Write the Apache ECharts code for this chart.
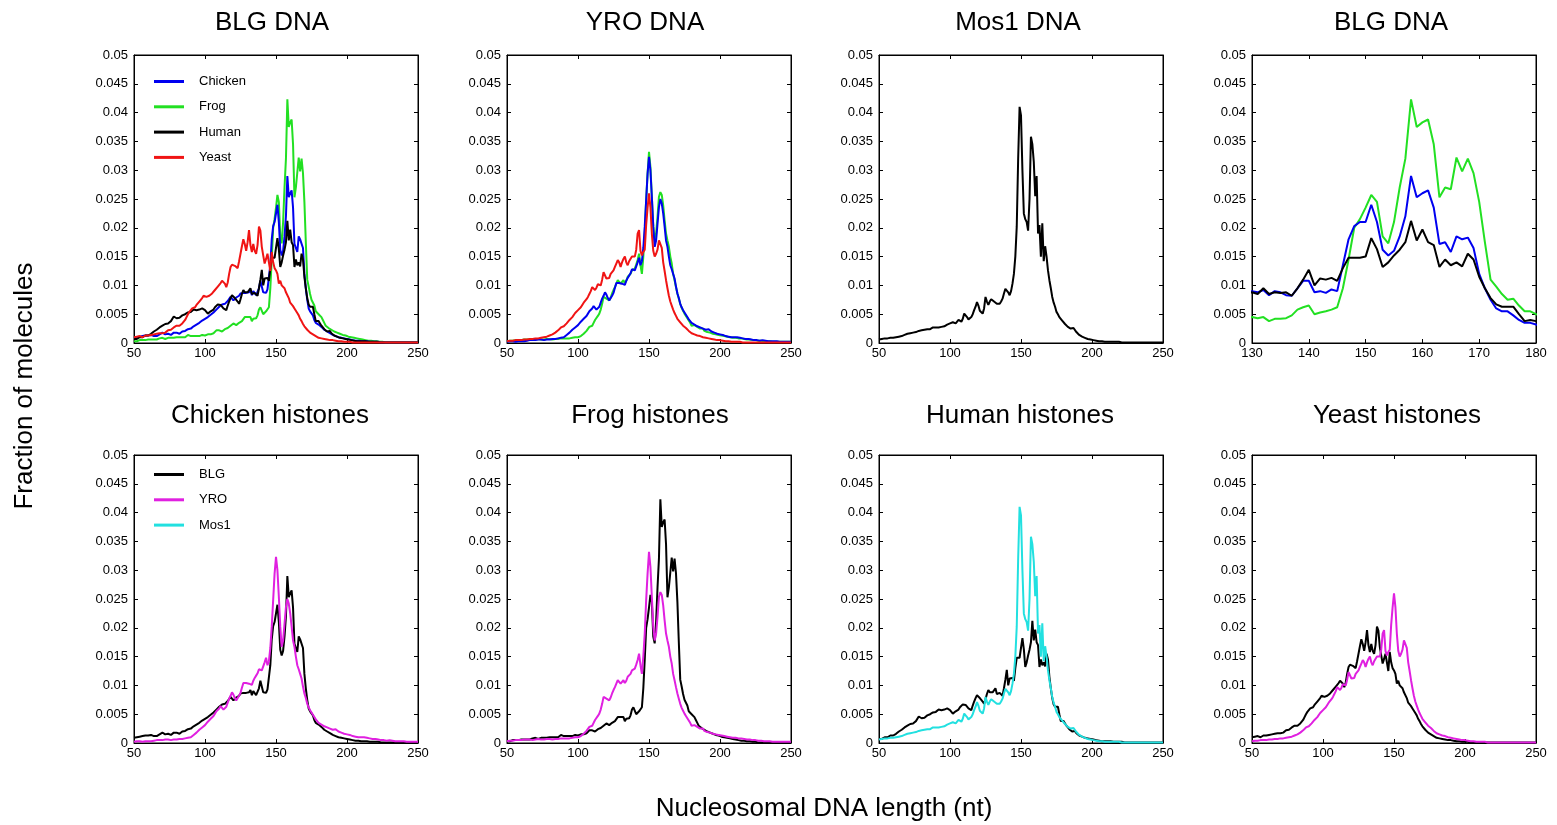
<!DOCTYPE html>
<html>
<head>
<meta charset="utf-8">
<title>Nucleosomal DNA length distributions</title>
<script src="https://cdn.jsdelivr.net/npm/echarts@6/dist/echarts.min.js"></script>
<style>
  html, body { margin: 0; padding: 0; background: #ffffff; }
  #chart { width: 1557px; height: 825px; }
</style>
</head>
<body>
<div id="chart"></div>
<script>
// Nucleosomal DNA length axis: one value per nucleotide, 50..250 nt
const lengths = Array.from({ length: 201 }, (_, k) => 50 + k);

// Fraction of molecules at each length (rows of ten: 50-59, 60-69, ... , 250)
const blgChicken = [
  0.0009, 0.0008, 0.0010, 0.0009, 0.0011, 0.0010, 0.0012, 0.0011, 0.0013, 0.0012,
  0.0013, 0.0012, 0.0014, 0.0013, 0.0012, 0.0013, 0.0012, 0.0014, 0.0015, 0.0016,
  0.0018, 0.0016, 0.0015, 0.0014, 0.0016, 0.0015, 0.0014, 0.0016, 0.0018, 0.0019,
  0.0018, 0.0017, 0.0016, 0.0018, 0.0020, 0.0019, 0.0021, 0.0022, 0.0024, 0.0023,
  0.0025, 0.0027, 0.0029, 0.0030, 0.0032, 0.0034, 0.0035, 0.0037, 0.0039, 0.0040,
  0.0042, 0.0044, 0.0045, 0.0046, 0.0049, 0.0051, 0.0053, 0.0055, 0.0058, 0.0060,
  0.0063, 0.0065, 0.0067, 0.0070, 0.0068, 0.0071, 0.0073, 0.0075, 0.0080, 0.0077,
  0.0074, 0.0076, 0.0079, 0.0077, 0.0082, 0.0086, 0.0084, 0.0087, 0.0089, 0.0087,
  0.0090, 0.0088, 0.0092, 0.0083, 0.0090, 0.0088, 0.0083, 0.0082, 0.0095, 0.0108,
  0.0108, 0.0088, 0.0090, 0.0087, 0.0093, 0.0090, 0.0135, 0.0180, 0.0203, 0.0210,
  0.0210, 0.0240, 0.0210, 0.0162, 0.0152, 0.0160, 0.0185, 0.0220, 0.0290, 0.0253,
  0.0260, 0.0265, 0.0235, 0.0172, 0.0175, 0.0158, 0.0185, 0.0180, 0.0183, 0.0165,
  0.0120, 0.0095, 0.0075, 0.0060, 0.0055, 0.0055, 0.0048, 0.0040, 0.0035, 0.0035,
  0.0032, 0.0030, 0.0028, 0.0026, 0.0023, 0.0021, 0.0020, 0.0018, 0.0017, 0.0015,
  0.0014, 0.0013, 0.0012, 0.0011, 0.0010, 0.0010, 0.0009, 0.0008, 0.0008, 0.0007,
  0.0007, 0.0006, 0.0006, 0.0005, 0.0005, 0.0005, 0.0004, 0.0004, 0.0004, 0.0004,
  0.0003, 0.0003, 0.0003, 0.0003, 0.0003, 0.0002, 0.0002, 0.0002, 0.0002, 0.0002,
  0.0002, 0.0002, 0.0002, 0.0001, 0.0001, 0.0001, 0.0001, 0.0001, 0.0001, 0.0001,
  0.0001, 0.0001, 0.0001, 0.0001, 0.0001, 0.0001, 0.0001, 0.0001, 0.0001, 0.0001,
  0.0001, 0.0001, 0.0001, 0.0001, 0.0001, 0.0001, 0.0001, 0.0001, 0.0001, 0.0001,
  0.0001
];

const blgFrog = [
  0.0003, 0.0004, 0.0003, 0.0004, 0.0005, 0.0004, 0.0005, 0.0006, 0.0005, 0.0006,
  0.0006, 0.0005, 0.0006, 0.0007, 0.0006, 0.0007, 0.0006, 0.0007, 0.0008, 0.0007,
  0.0009, 0.0008, 0.0007, 0.0008, 0.0009, 0.0008, 0.0009, 0.0010, 0.0009, 0.0010,
  0.0010, 0.0009, 0.0010, 0.0011, 0.0010, 0.0011, 0.0010, 0.0012, 0.0014, 0.0012,
  0.0012, 0.0011, 0.0012, 0.0013, 0.0012, 0.0013, 0.0012, 0.0013, 0.0014, 0.0013,
  0.0013, 0.0014, 0.0015, 0.0014, 0.0015, 0.0016, 0.0017, 0.0019, 0.0022, 0.0021,
  0.0022, 0.0021, 0.0020, 0.0022, 0.0024, 0.0024, 0.0026, 0.0028, 0.0030, 0.0031,
  0.0034, 0.0032, 0.0031, 0.0033, 0.0035, 0.0036, 0.0038, 0.0041, 0.0045, 0.0043,
  0.0045, 0.0043, 0.0045, 0.0038, 0.0042, 0.0042, 0.0043, 0.0048, 0.0058, 0.0062,
  0.0065, 0.0050, 0.0053, 0.0055, 0.0058, 0.0062, 0.0095, 0.0145, 0.0200, 0.0215,
  0.0235, 0.0257, 0.0245, 0.0185, 0.0173, 0.0210, 0.0270, 0.0320, 0.0423, 0.0375,
  0.0383, 0.0388, 0.0345, 0.0253, 0.0270, 0.0267, 0.0322, 0.0298, 0.0320, 0.0295,
  0.0245, 0.0175, 0.0110, 0.0098, 0.0085, 0.0075, 0.0077, 0.0065, 0.0055, 0.0055,
  0.0050, 0.0048, 0.0045, 0.0040, 0.0035, 0.0030, 0.0028, 0.0026, 0.0024, 0.0023,
  0.0022, 0.0020, 0.0019, 0.0018, 0.0017, 0.0016, 0.0015, 0.0014, 0.0013, 0.0013,
  0.0012, 0.0011, 0.0011, 0.0010, 0.0010, 0.0009, 0.0009, 0.0008, 0.0007, 0.0007,
  0.0006, 0.0006, 0.0005, 0.0005, 0.0005, 0.0004, 0.0004, 0.0004, 0.0003, 0.0003,
  0.0003, 0.0003, 0.0002, 0.0002, 0.0002, 0.0002, 0.0002, 0.0001, 0.0001, 0.0001,
  0.0001, 0.0001, 0.0001, 0.0001, 0.0001, 0.0001, 0.0001, 0.0001, 0.0001, 0.0001,
  0.0001, 0.0001, 0.0001, 0.0001, 0.0001, 0.0001, 0.0001, 0.0001, 0.0001, 0.0001,
  0.0001
];

const blgHuman = [
  0.0007, 0.0008, 0.0007, 0.0009, 0.0010, 0.0011, 0.0010, 0.0012, 0.0013, 0.0012,
  0.0013, 0.0015, 0.0016, 0.0018, 0.0020, 0.0022, 0.0023, 0.0025, 0.0027, 0.0029,
  0.0030, 0.0031, 0.0033, 0.0035, 0.0034, 0.0036, 0.0038, 0.0040, 0.0046, 0.0044,
  0.0043, 0.0045, 0.0044, 0.0046, 0.0048, 0.0048, 0.0050, 0.0049, 0.0053, 0.0052,
  0.0054, 0.0055, 0.0058, 0.0060, 0.0057, 0.0056, 0.0058, 0.0057, 0.0060, 0.0058,
  0.0057, 0.0055, 0.0051, 0.0053, 0.0055, 0.0056, 0.0058, 0.0062, 0.0065, 0.0067,
  0.0068, 0.0066, 0.0064, 0.0060, 0.0058, 0.0057, 0.0065, 0.0072, 0.0078, 0.0083,
  0.0080, 0.0078, 0.0075, 0.0072, 0.0068, 0.0076, 0.0085, 0.0092, 0.0088, 0.0087,
  0.0088, 0.0085, 0.0095, 0.0085, 0.0088, 0.0087, 0.0088, 0.0082, 0.0095, 0.0110,
  0.0127, 0.0100, 0.0112, 0.0110, 0.0113, 0.0108, 0.0130, 0.0148, 0.0148, 0.0148,
  0.0150, 0.0182, 0.0163, 0.0132, 0.0140, 0.0152, 0.0162, 0.0175, 0.0212, 0.0178,
  0.0197, 0.0175, 0.0170, 0.0132, 0.0145, 0.0135, 0.0140, 0.0133, 0.0155, 0.0145,
  0.0115, 0.0095, 0.0078, 0.0067, 0.0063, 0.0063, 0.0063, 0.0050, 0.0038, 0.0040,
  0.0038, 0.0034, 0.0030, 0.0027, 0.0024, 0.0022, 0.0020, 0.0019, 0.0021, 0.0017,
  0.0014, 0.0013, 0.0012, 0.0011, 0.0010, 0.0009, 0.0008, 0.0008, 0.0007, 0.0007,
  0.0006, 0.0006, 0.0005, 0.0005, 0.0004, 0.0004, 0.0004, 0.0003, 0.0003, 0.0003,
  0.0003, 0.0003, 0.0002, 0.0003, 0.0002, 0.0002, 0.0002, 0.0002, 0.0002, 0.0002,
  0.0002, 0.0002, 0.0001, 0.0001, 0.0001, 0.0001, 0.0001, 0.0001, 0.0001, 0.0001,
  0.0001, 0.0001, 0.0001, 0.0001, 0.0001, 0.0001, 0.0001, 0.0001, 0.0001, 0.0001,
  0.0001, 0.0001, 0.0001, 0.0001, 0.0001, 0.0001, 0.0001, 0.0001, 0.0001, 0.0001,
  0.0001
];

const blgYeast = [
  0.0010, 0.0009, 0.0011, 0.0010, 0.0012, 0.0011, 0.0010, 0.0012, 0.0013, 0.0015,
  0.0013, 0.0012, 0.0014, 0.0013, 0.0015, 0.0014, 0.0016, 0.0015, 0.0017, 0.0016,
  0.0017, 0.0019, 0.0018, 0.0020, 0.0022, 0.0021, 0.0023, 0.0025, 0.0027, 0.0026,
  0.0030, 0.0031, 0.0030, 0.0032, 0.0034, 0.0036, 0.0040, 0.0045, 0.0050, 0.0054,
  0.0057, 0.0060, 0.0058, 0.0062, 0.0066, 0.0068, 0.0072, 0.0075, 0.0078, 0.0082,
  0.0083, 0.0080, 0.0078, 0.0082, 0.0085, 0.0086, 0.0089, 0.0092, 0.0095, 0.0098,
  0.0100, 0.0104, 0.0108, 0.0110, 0.0103, 0.0097, 0.0105, 0.0120, 0.0132, 0.0136,
  0.0138, 0.0134, 0.0131, 0.0130, 0.0142, 0.0155, 0.0168, 0.0180, 0.0172, 0.0160,
  0.0175, 0.0196, 0.0170, 0.0158, 0.0172, 0.0160, 0.0155, 0.0170, 0.0202, 0.0195,
  0.0167, 0.0152, 0.0138, 0.0146, 0.0155, 0.0140, 0.0125, 0.0158, 0.0140, 0.0130,
  0.0126, 0.0120, 0.0103, 0.0108, 0.0100, 0.0097, 0.0095, 0.0088, 0.0085, 0.0078,
  0.0070, 0.0068, 0.0064, 0.0060, 0.0056, 0.0052, 0.0048, 0.0042, 0.0038, 0.0033,
  0.0029, 0.0026, 0.0023, 0.0021, 0.0018, 0.0016, 0.0015, 0.0013, 0.0012, 0.0010,
  0.0009, 0.0008, 0.0008, 0.0007, 0.0007, 0.0006, 0.0006, 0.0005, 0.0005, 0.0005,
  0.0005, 0.0004, 0.0004, 0.0004, 0.0003, 0.0003, 0.0003, 0.0003, 0.0002, 0.0002,
  0.0002, 0.0002, 0.0002, 0.0002, 0.0001, 0.0001, 0.0001, 0.0001, 0.0001, 0.0001,
  0.0001, 0.0001, 0.0001, 0.0001, 0.0001, 0.0001, 0.0001, 0.0001, 0.0001, 0.0001,
  0.0001, 0.0001, 0.0001, 0.0001, 0.0001, 0.0001, 0.0001, 0.0001, 0.0001, 0.0001,
  0.0001, 0.0001, 0.0001, 0.0001, 0.0001, 0.0001, 0.0001, 0.0001, 0.0001, 0.0001,
  0.0001, 0.0001, 0.0001, 0.0001, 0.0001, 0.0001, 0.0001, 0.0001, 0.0001, 0.0001,
  0.0001
];

const yroChicken = [
  0.0002, 0.0002, 0.0003, 0.0002, 0.0003, 0.0003, 0.0002, 0.0003, 0.0003, 0.0003,
  0.0003, 0.0004, 0.0003, 0.0004, 0.0004, 0.0004, 0.0005, 0.0004, 0.0005, 0.0005,
  0.0005, 0.0005, 0.0006, 0.0005, 0.0006, 0.0006, 0.0005, 0.0006, 0.0006, 0.0007,
  0.0006, 0.0007, 0.0007, 0.0008, 0.0007, 0.0008, 0.0008, 0.0009, 0.0009, 0.0010,
  0.0010, 0.0012, 0.0014, 0.0016, 0.0018, 0.0021, 0.0023, 0.0025, 0.0027, 0.0029,
  0.0031, 0.0034, 0.0037, 0.0040, 0.0042, 0.0044, 0.0047, 0.0051, 0.0055, 0.0058,
  0.0060, 0.0064, 0.0066, 0.0058, 0.0061, 0.0063, 0.0070, 0.0077, 0.0082, 0.0088,
  0.0084, 0.0078, 0.0074, 0.0077, 0.0082, 0.0087, 0.0096, 0.0104, 0.0106, 0.0104,
  0.0101, 0.0103, 0.0106, 0.0101, 0.0108, 0.0113, 0.0117, 0.0121, 0.0128, 0.0127,
  0.0126, 0.0133, 0.0140, 0.0148, 0.0135, 0.0142, 0.0165, 0.0202, 0.0248, 0.0294,
  0.0323, 0.0300, 0.0254, 0.0202, 0.0167, 0.0178, 0.0207, 0.0236, 0.0250, 0.0242,
  0.0225, 0.0202, 0.0178, 0.0167, 0.0150, 0.0135, 0.0128, 0.0120, 0.0112, 0.0098,
  0.0086, 0.0078, 0.0068, 0.0062, 0.0057, 0.0053, 0.0049, 0.0045, 0.0041, 0.0038,
  0.0035, 0.0033, 0.0032, 0.0031, 0.0029, 0.0028, 0.0027, 0.0026, 0.0025, 0.0024,
  0.0023, 0.0022, 0.0024, 0.0021, 0.0020, 0.0019, 0.0018, 0.0017, 0.0016, 0.0016,
  0.0015, 0.0014, 0.0014, 0.0013, 0.0012, 0.0012, 0.0011, 0.0011, 0.0010, 0.0010,
  0.0010, 0.0009, 0.0010, 0.0011, 0.0009, 0.0009, 0.0008, 0.0008, 0.0007, 0.0007,
  0.0007, 0.0006, 0.0006, 0.0006, 0.0005, 0.0005, 0.0005, 0.0005, 0.0004, 0.0004,
  0.0005, 0.0004, 0.0004, 0.0003, 0.0003, 0.0003, 0.0003, 0.0003, 0.0003, 0.0003,
  0.0003, 0.0002, 0.0002, 0.0002, 0.0002, 0.0002, 0.0002, 0.0002, 0.0002, 0.0002,
  0.0002
];

const yroFrog = [
  0.0003, 0.0003, 0.0004, 0.0003, 0.0004, 0.0004, 0.0005, 0.0004, 0.0005, 0.0005,
  0.0005, 0.0005, 0.0006, 0.0005, 0.0006, 0.0005, 0.0006, 0.0006, 0.0005, 0.0006,
  0.0006, 0.0006, 0.0007, 0.0006, 0.0006, 0.0007, 0.0006, 0.0007, 0.0007, 0.0006,
  0.0007, 0.0007, 0.0006, 0.0007, 0.0007, 0.0008, 0.0007, 0.0008, 0.0008, 0.0007,
  0.0008, 0.0008, 0.0008, 0.0009, 0.0008, 0.0009, 0.0009, 0.0009, 0.0010, 0.0010,
  0.0010, 0.0011, 0.0012, 0.0013, 0.0016, 0.0019, 0.0021, 0.0024, 0.0028, 0.0029,
  0.0030, 0.0035, 0.0040, 0.0043, 0.0047, 0.0051, 0.0058, 0.0068, 0.0080, 0.0083,
  0.0077, 0.0076, 0.0074, 0.0079, 0.0086, 0.0092, 0.0097, 0.0103, 0.0109, 0.0112,
  0.0103, 0.0106, 0.0109, 0.0104, 0.0108, 0.0115, 0.0117, 0.0120, 0.0126, 0.0127,
  0.0129, 0.0136, 0.0144, 0.0155, 0.0135, 0.0120, 0.0150, 0.0190, 0.0248, 0.0294,
  0.0332, 0.0306, 0.0254, 0.0202, 0.0178, 0.0190, 0.0219, 0.0254, 0.0262, 0.0257,
  0.0239, 0.0213, 0.0190, 0.0178, 0.0167, 0.0150, 0.0138, 0.0120, 0.0109, 0.0097,
  0.0086, 0.0077, 0.0068, 0.0061, 0.0056, 0.0051, 0.0047, 0.0043, 0.0040, 0.0035,
  0.0030, 0.0030, 0.0031, 0.0031, 0.0028, 0.0025, 0.0025, 0.0024, 0.0025, 0.0021,
  0.0019, 0.0019, 0.0018, 0.0018, 0.0017, 0.0016, 0.0016, 0.0015, 0.0014, 0.0014,
  0.0013, 0.0013, 0.0012, 0.0012, 0.0011, 0.0011, 0.0011, 0.0010, 0.0010, 0.0009,
  0.0009, 0.0009, 0.0008, 0.0008, 0.0009, 0.0008, 0.0007, 0.0007, 0.0007, 0.0006,
  0.0006, 0.0006, 0.0005, 0.0005, 0.0005, 0.0005, 0.0004, 0.0004, 0.0004, 0.0004,
  0.0003, 0.0003, 0.0003, 0.0003, 0.0003, 0.0003, 0.0002, 0.0002, 0.0002, 0.0002,
  0.0002, 0.0002, 0.0002, 0.0002, 0.0002, 0.0002, 0.0002, 0.0002, 0.0002, 0.0002,
  0.0002
];

const yroYeast = [
  0.0003, 0.0004, 0.0004, 0.0005, 0.0004, 0.0005, 0.0005, 0.0006, 0.0005, 0.0006,
  0.0005, 0.0006, 0.0006, 0.0005, 0.0006, 0.0006, 0.0007, 0.0006, 0.0007, 0.0007,
  0.0008, 0.0007, 0.0008, 0.0008, 0.0009, 0.0009, 0.0010, 0.0010, 0.0011, 0.0012,
  0.0013, 0.0013, 0.0015, 0.0016, 0.0018, 0.0020, 0.0022, 0.0025, 0.0027, 0.0028,
  0.0029, 0.0031, 0.0034, 0.0037, 0.0040, 0.0042, 0.0045, 0.0048, 0.0052, 0.0055,
  0.0057, 0.0060, 0.0062, 0.0066, 0.0070, 0.0073, 0.0076, 0.0080, 0.0085, 0.0090,
  0.0097, 0.0094, 0.0092, 0.0096, 0.0102, 0.0104, 0.0100, 0.0110, 0.0123, 0.0125,
  0.0112, 0.0109, 0.0113, 0.0120, 0.0118, 0.0126, 0.0132, 0.0138, 0.0144, 0.0140,
  0.0132, 0.0140, 0.0146, 0.0150, 0.0140, 0.0135, 0.0142, 0.0145, 0.0150, 0.0147,
  0.0150, 0.0162, 0.0190, 0.0196, 0.0160, 0.0152, 0.0158, 0.0162, 0.0205, 0.0235,
  0.0260, 0.0236, 0.0190, 0.0160, 0.0150, 0.0155, 0.0162, 0.0178, 0.0180, 0.0165,
  0.0140, 0.0125, 0.0109, 0.0095, 0.0082, 0.0072, 0.0065, 0.0058, 0.0052, 0.0047,
  0.0042, 0.0039, 0.0036, 0.0033, 0.0030, 0.0028, 0.0026, 0.0023, 0.0021, 0.0019,
  0.0017, 0.0016, 0.0015, 0.0014, 0.0013, 0.0013, 0.0012, 0.0011, 0.0010, 0.0009,
  0.0009, 0.0008, 0.0008, 0.0007, 0.0007, 0.0006, 0.0006, 0.0006, 0.0005, 0.0005,
  0.0005, 0.0004, 0.0004, 0.0004, 0.0003, 0.0003, 0.0003, 0.0003, 0.0002, 0.0002,
  0.0002, 0.0002, 0.0002, 0.0002, 0.0002, 0.0001, 0.0001, 0.0001, 0.0001, 0.0001,
  0.0001, 0.0001, 0.0001, 0.0001, 0.0001, 0.0001, 0.0001, 0.0001, 0.0001, 0.0001,
  0.0001, 0.0001, 0.0001, 0.0001, 0.0001, 0.0001, 0.0001, 0.0001, 0.0001, 0.0001,
  0.0001, 0.0001, 0.0001, 0.0001, 0.0001, 0.0001, 0.0001, 0.0001, 0.0001, 0.0001,
  0.0001
];

const mos1Human = [
  0.0006, 0.0006, 0.0007, 0.0007, 0.0008, 0.0008, 0.0008, 0.0009, 0.0009, 0.0009,
  0.0009, 0.0010, 0.0010, 0.0011, 0.0011, 0.0012, 0.0012, 0.0013, 0.0014, 0.0015,
  0.0016, 0.0016, 0.0017, 0.0017, 0.0018, 0.0019, 0.0019, 0.0020, 0.0021, 0.0021,
  0.0022, 0.0022, 0.0023, 0.0023, 0.0024, 0.0025, 0.0024, 0.0026, 0.0027, 0.0026,
  0.0027, 0.0028, 0.0027, 0.0029, 0.0028, 0.0030, 0.0029, 0.0031, 0.0032, 0.0031,
  0.0034, 0.0033, 0.0036, 0.0035, 0.0034, 0.0036, 0.0040, 0.0038, 0.0037, 0.0042,
  0.0051, 0.0048, 0.0045, 0.0041, 0.0042, 0.0045, 0.0050, 0.0057, 0.0063, 0.0071,
  0.0065, 0.0056, 0.0053, 0.0051, 0.0060, 0.0080, 0.0072, 0.0066, 0.0072, 0.0076,
  0.0074, 0.0072, 0.0070, 0.0068, 0.0066, 0.0068, 0.0072, 0.0077, 0.0086, 0.0094,
  0.0092, 0.0088, 0.0083, 0.0090, 0.0103, 0.0120, 0.0150, 0.0202, 0.0320, 0.0410,
  0.0395, 0.0300, 0.0225, 0.0215, 0.0210, 0.0195, 0.0250, 0.0358, 0.0345, 0.0315,
  0.0255, 0.0290, 0.0190, 0.0205, 0.0150, 0.0208, 0.0142, 0.0168, 0.0150, 0.0126,
  0.0109, 0.0095, 0.0080, 0.0070, 0.0063, 0.0054, 0.0050, 0.0045, 0.0042, 0.0039,
  0.0036, 0.0033, 0.0030, 0.0028, 0.0026, 0.0025, 0.0024, 0.0026, 0.0023, 0.0019,
  0.0016, 0.0014, 0.0013, 0.0011, 0.0010, 0.0009, 0.0008, 0.0007, 0.0007, 0.0006,
  0.0006, 0.0005, 0.0005, 0.0004, 0.0004, 0.0003, 0.0003, 0.0003, 0.0003, 0.0002,
  0.0002, 0.0002, 0.0002, 0.0002, 0.0002, 0.0002, 0.0002, 0.0002, 0.0002, 0.0002,
  0.0001, 0.0001, 0.0001, 0.0001, 0.0001, 0.0001, 0.0001, 0.0001, 0.0001, 0.0001,
  0.0001, 0.0001, 0.0001, 0.0001, 0.0001, 0.0001, 0.0001, 0.0001, 0.0001, 0.0001,
  0.0001, 0.0001, 0.0001, 0.0001, 0.0001, 0.0001, 0.0001, 0.0001, 0.0001, 0.0001,
  0.0001
];

// Panel titles and legend entries
const panelTitles = [
  'BLG DNA', 'YRO DNA', 'Mos1 DNA', 'BLG DNA',
  'Chicken histones', 'Frog histones', 'Human histones', 'Yeast histones'
];
const histoneLegend = ['Chicken', 'Frog', 'Human', 'Yeast'];
const dnaLegend = ['BLG', 'YRO', 'Mos1'];

// Axis ranges
const fullRange = { min: 50, max: 250, step: 50 };
const zoomRange = { min: 130, max: 180, step: 10 };
const fractionRange = { min: 0, max: 0.05, step: 0.005 };

// Line colours by series name
const lineColors = {
  Chicken: '#0000f0', Frog: '#22e022', Human: '#000000', Yeast: '#f01414',
  BLG: '#000000', YRO: '#e020e0', Mos1: '#22e0e0'
};

const FONT = '"Liberation Sans", Arial, Helvetica, sans-serif';

// Panel geometry and the curves drawn in each (later entries draw on top)
const panels = [
  { left: 134,  top: 55,  titleX: 272,  range: fullRange,
    lines: [['Frog', blgFrog], ['Chicken', blgChicken], ['Human', blgHuman], ['Yeast', blgYeast]] },
  { left: 507,  top: 55,  titleX: 645,  range: fullRange,
    lines: [['Frog', yroFrog], ['Chicken', yroChicken], ['Yeast', yroYeast]] },
  { left: 879,  top: 55,  titleX: 1018, range: fullRange,
    lines: [['Human', mos1Human]] },
  { left: 1252, top: 55,  titleX: 1391, range: zoomRange,
    lines: [['Frog', blgFrog], ['Chicken', blgChicken], ['Human', blgHuman]] },
  { left: 134,  top: 455, titleX: 270,  range: fullRange,
    lines: [['BLG', blgChicken], ['YRO', yroChicken]] },
  { left: 507,  top: 455, titleX: 650,  range: fullRange,
    lines: [['BLG', blgFrog], ['YRO', yroFrog]] },
  { left: 879,  top: 455, titleX: 1020, range: fullRange,
    lines: [['BLG', blgHuman], ['Mos1', mos1Human]] },
  { left: 1252, top: 455, titleX: 1397, range: fullRange,
    lines: [['BLG', blgYeast], ['YRO', yroYeast]] }
];
const PLOT_W = 284, PLOT_H = 288;

const grids = [], xAxes = [], yAxes = [], series = [], titles = [];

const tickStyle = { show: true, inside: true, length: 4, lineStyle: { color: '#000', width: 1 } };
const lineAxis = { show: true, onZero: false, lineStyle: { color: '#000', width: 1 } };
const labelStyle = { color: '#000', fontSize: 13, fontFamily: FONT };

panels.forEach((p, i) => {
  grids.push({
    left: p.left, top: p.top, width: PLOT_W, height: PLOT_H,
    show: true, borderColor: '#000', borderWidth: 1, backgroundColor: '#fff'
  });

  const xBase = {
    type: 'value', gridIndex: i,
    min: p.range.min, max: p.range.max, interval: p.range.step,
    splitLine: { show: false }, axisLine: lineAxis, axisTick: tickStyle
  };
  xAxes.push(Object.assign({}, xBase, {
    position: 'bottom',
    axisLabel: Object.assign({ margin: 4 }, labelStyle)
  }));
  xAxes.push(Object.assign({}, xBase, { position: 'top', axisLabel: { show: false } }));

  const yBase = {
    type: 'value', gridIndex: i,
    min: fractionRange.min, max: fractionRange.max, interval: fractionRange.step,
    splitLine: { show: false }, axisLine: lineAxis, axisTick: tickStyle
  };
  yAxes.push(Object.assign({}, yBase, {
    position: 'left',
    axisLabel: Object.assign({ margin: 6, formatter: v => String(+v.toFixed(3)) }, labelStyle)
  }));
  yAxes.push(Object.assign({}, yBase, { position: 'right', axisLabel: { show: false } }));

  p.lines.forEach(([name, values]) => {
    series.push({
      type: 'line', name: name,
      xAxisIndex: 2 * i, yAxisIndex: 2 * i,
      data: lengths.map((x, k) => [x, values[k]]),
      showSymbol: false, symbol: 'none', clip: true,
      color: lineColors[name],
      lineStyle: { color: lineColors[name], width: 2 },
      emphasis: { disabled: true },
      animation: false
    });
  });

  titles.push({
    text: panelTitles[i],
    left: p.titleX, top: p.top < 100 ? 10 : 403,
    textAlign: 'center', padding: 0,
    textStyle: { fontSize: 26, fontWeight: 'normal', color: '#000', fontFamily: FONT }
  });
});

const legendBase = {
  orient: 'vertical', left: 154,
  icon: 'rect', itemWidth: 30, itemHeight: 3, itemGap: 10.3,
  selectedMode: false, padding: 0,
  textStyle: { fontSize: 13, color: '#000', fontFamily: FONT, lineHeight: 15, padding: [0, 0, 0, 10] }
};

const chart = echarts.init(document.getElementById('chart'), null, { renderer: 'canvas' });
chart.setOption({
  backgroundColor: '#ffffff',
  animation: false,
  textStyle: { fontFamily: FONT },
  title: titles,
  legend: [
    Object.assign({}, legendBase, { data: histoneLegend, top: 74 }),
    Object.assign({}, legendBase, { data: dnaLegend, top: 467 })
  ],
  grid: grids,
  xAxis: xAxes,
  yAxis: yAxes,
  series: series,
  graphic: [
    {
      type: 'text', x: 25, y: 386, rotation: Math.PI / 2,
      style: {
        text: 'Fraction of molecules', fill: '#000',
        fontSize: 26, fontFamily: FONT, align: 'center', verticalAlign: 'middle'
      }
    },
    {
      type: 'text', x: 824, y: 809,
      style: {
        text: 'Nucleosomal DNA length (nt)', fill: '#000',
        fontSize: 26, fontFamily: FONT, align: 'center', verticalAlign: 'middle'
      }
    }
  ]
});
</script>
</body>
</html>
